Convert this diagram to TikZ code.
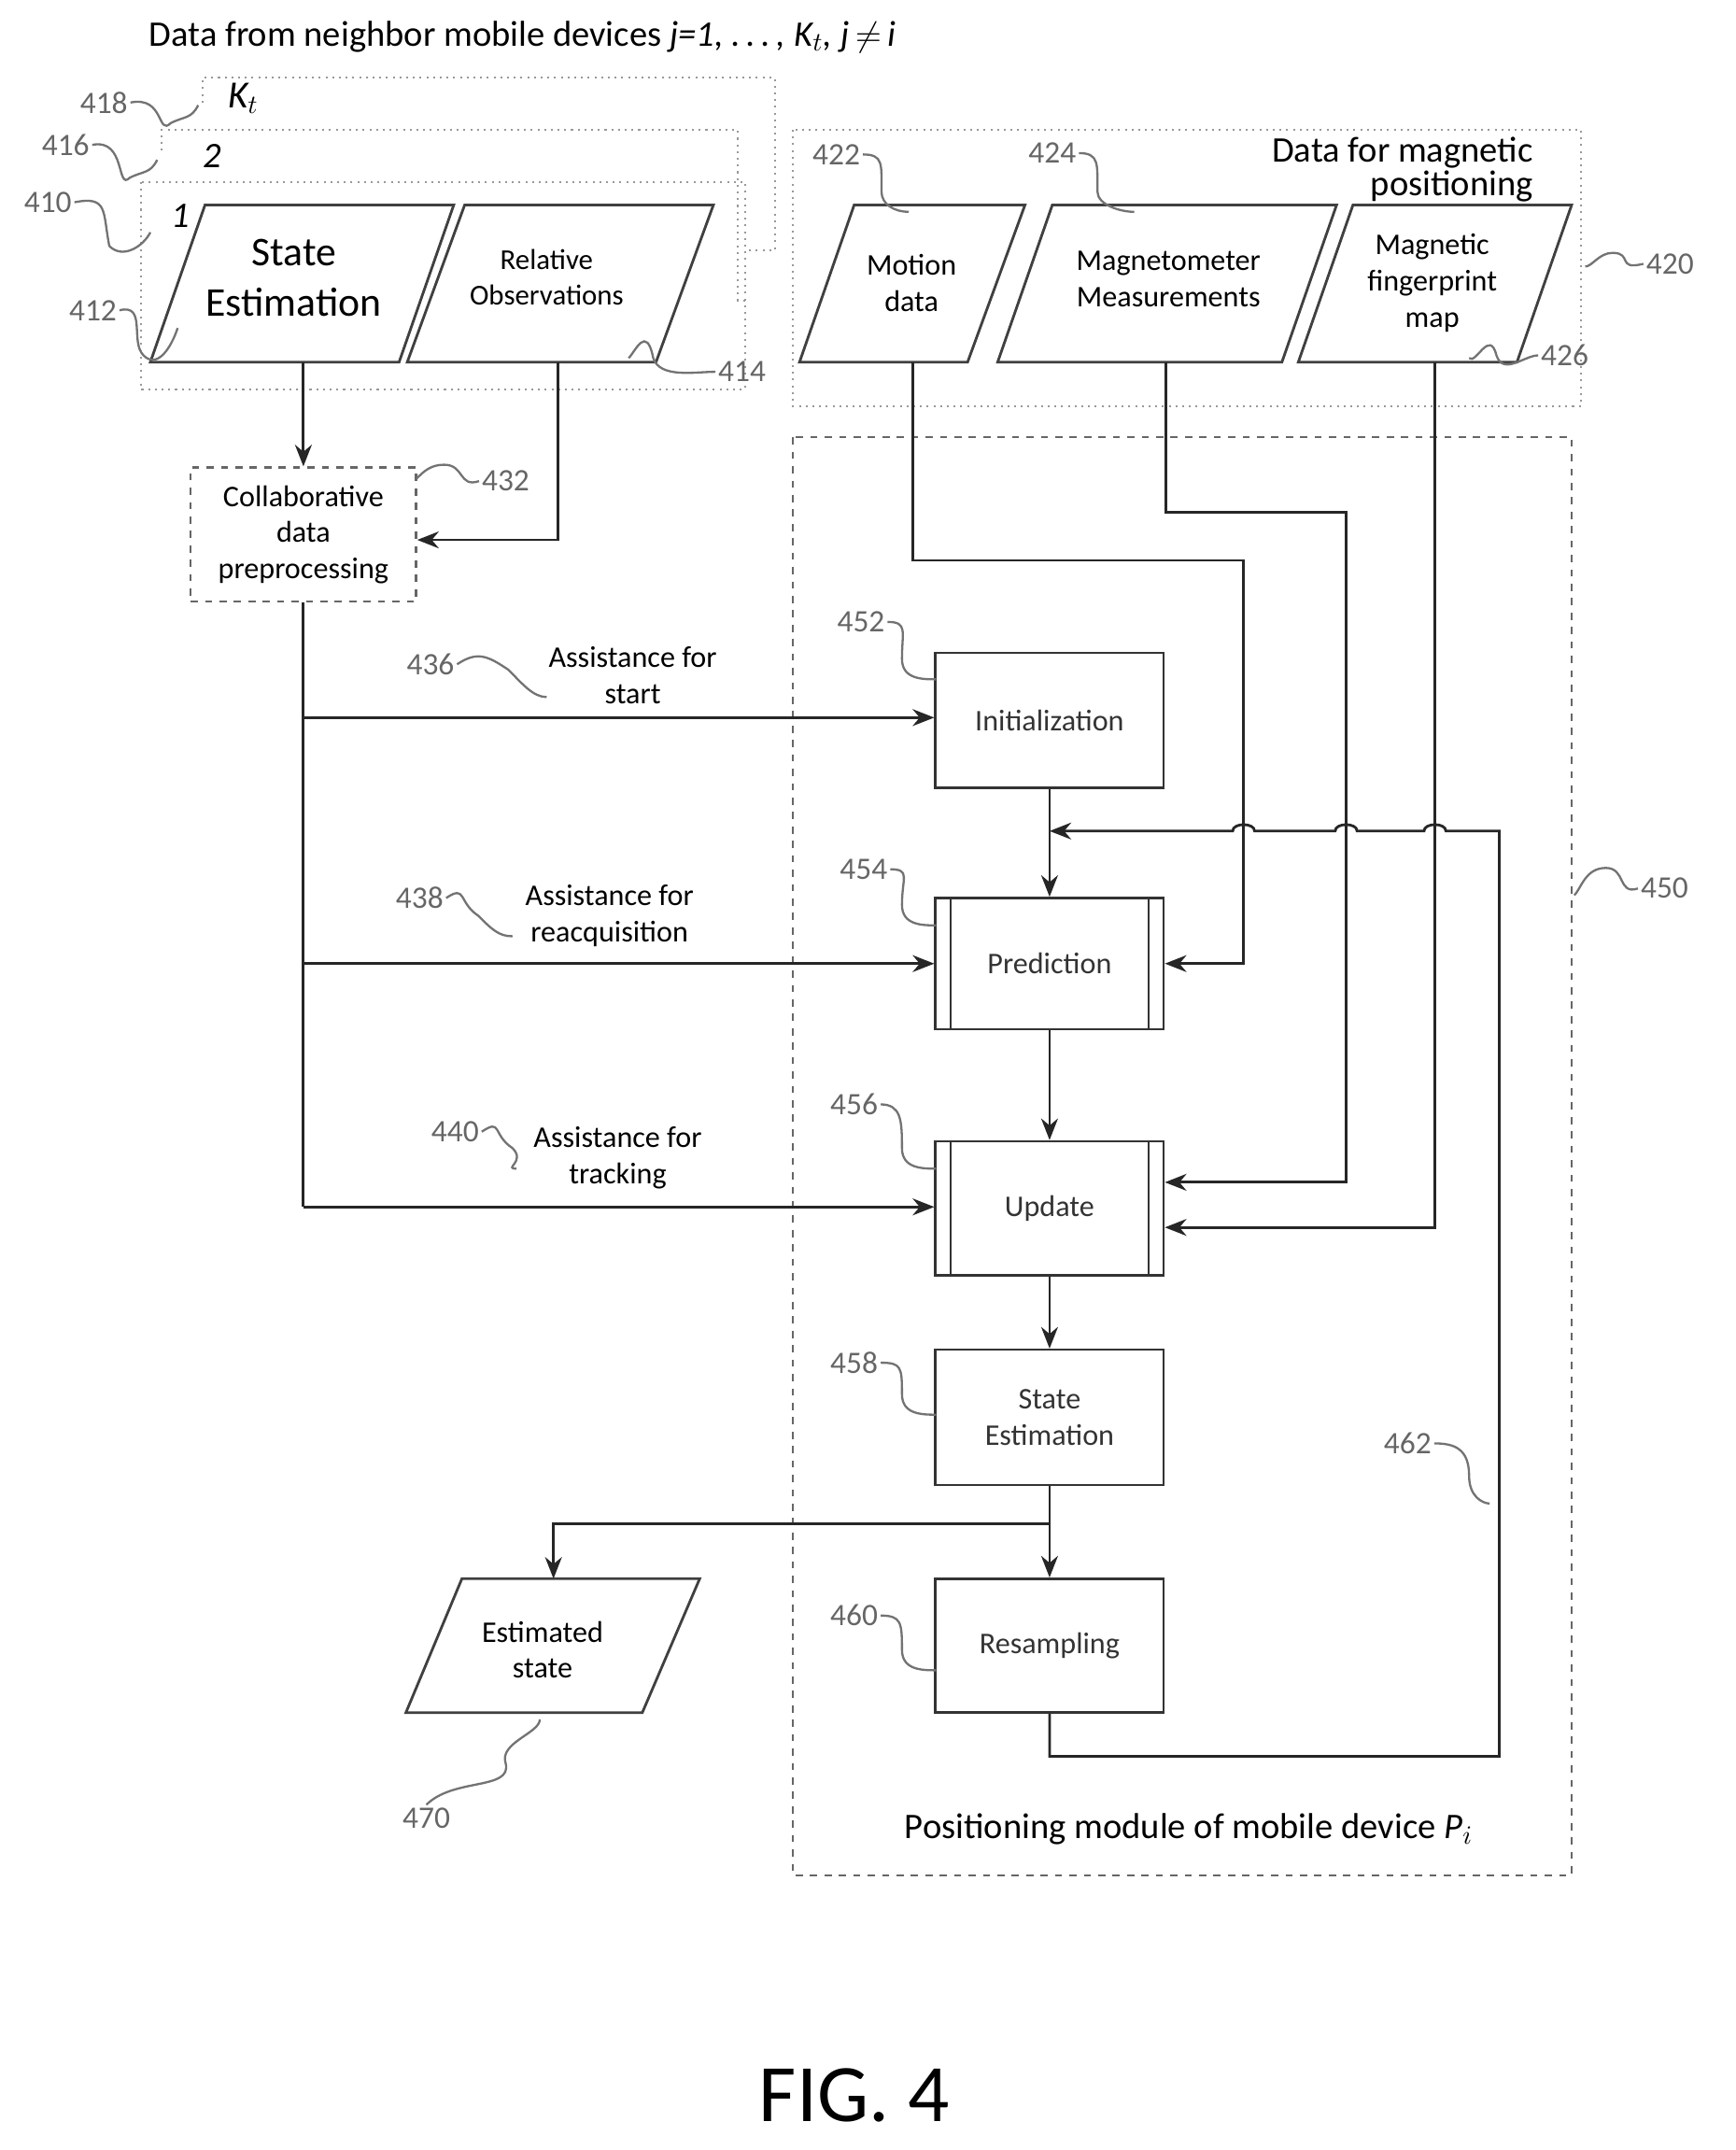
\documentclass[tikz,border=0pt]{standalone}
\usepackage{fontspec}
\setmainfont{Carlito}
\usetikzlibrary{arrows.meta}
\begin{document}
\begin{tikzpicture}[x=0.02cm,y=-0.02cm,
  txt/.style={font=\fontsize{12.5}{15}\selectfont,align=center,inner sep=0pt},
  num/.style={font=\fontsize{13}{15}\selectfont,text=black!60,inner sep=1pt},
  lead/.style={black!55,line width=0.9pt},
  dotfr/.style={black!40,dotted,line width=0.8pt},
  dashfr/.style={black!60,dashed,line width=0.9pt},
  box/.style={draw,line width=1pt,black!80},
  par/.style={draw,line width=1.1pt,black!75},
  ln/.style={line width=1.1pt,black!85},
  arr/.style={ln,-{Stealth[length=9pt,width=7pt]}}]
\useasboundingbox (0,0) rectangle (1270,1573);
% title
\node[font=\fontsize{15}{18}\selectfont,anchor=west] (title) at (103,27) {Data from neighbor mobile devices \textit{j=1, .\,.\,.\,, K$_t$, j}\,$\neq$\,\textit{i}};
% stacked frames
\draw[dotfr] (148,75) -- (148,57) -- (567,57) -- (567,183) -- (545,183);
\draw[dotfr] (118,110) -- (118,95) -- (540,95) -- (540,220) -- (545,220);
\draw[dotfr] (103,133) rectangle (545,285);
\node[font=\fontsize{16}{18}\selectfont\itshape] (lkt) at (178,72) {K$_t$};
\node[font=\fontsize{15}{18}\selectfont\itshape] (l2) at (155,114) {2};
\node[font=\fontsize{15}{18}\selectfont\itshape] (l1) at (132,158) {1};
% parallelograms left
\draw[par] (150,150) coordinate (se1) -- (332,150) -- (292,265) -- (110,265) -- cycle;
\node[txt,font=\fontsize{17}{21}\selectfont] (se) at (215,203) {State\\Estimation};
\coordinate (seb) at (222,265);
\draw[par] (340,150) -- (522,150) -- (480,265) -- (298,265) -- cycle;
\node[txt,font=\fontsize{12}{15}\selectfont] (ro) at (400,203) {Relative\\Observations};
\coordinate (rob) at (408,265);
% magnetic data
\draw[dotfr] (580,95) rectangle (1157,297);
\node[font=\fontsize{15}{12}\selectfont,align=right,anchor=north east] (dmp) at (1128,94) {Data for magnetic\\positioning};
\draw[par] (625,150) -- (750,150) -- (708,265) -- (585,265) -- cycle;
\node[txt] (md) at (667,207) {Motion\\data};
\draw[par] (770,150) -- (978,150) -- (938,265) -- (730,265) -- cycle;
\node[txt] (mm) at (855,204) {Magnetometer\\Measurements};
\draw[par] (990,150) -- (1150,150) -- (1110,265) -- (950,265) -- cycle;
\node[txt] (mf) at (1048,207) {Magnetic\\fingerprint\\map};
% positioning module
\draw[dashfr] (580,320) rectangle (1150,1372);
\node[font=\fontsize{15}{18}\selectfont] (pm) at (870,1338) {Positioning module of mobile device \textit{P$_i$}};
% collaborative
\node[draw,dashfr,minimum width=165*0.02cm,minimum height=98*0.02cm,txt,text=black] (cdp) at (222,391) {Collaborative\\data\\preprocessing};
% boxes
\node[box,minimum width=167*0.02cm,minimum height=99*0.02cm,txt] (init) at (768,527) {Initialization};
\node[box,minimum width=167*0.02cm,minimum height=96*0.02cm,txt] (pred) at (768,705) {Prediction};
\node[box,minimum width=167*0.02cm,minimum height=98*0.02cm,txt] (upd) at (768,884) {Update};
\node[box,minimum width=167*0.02cm,minimum height=99*0.02cm,txt] (sest) at (768,1037) {State\\Estimation};
\node[box,minimum width=167*0.02cm,minimum height=98*0.02cm,txt] (res) at (768,1204) {Resampling};
\foreach \b in {pred,upd}{
  \draw[line width=1pt,black!80] ([xshift=12*0.02cm]\b.north west) -- ([xshift=12*0.02cm]\b.south west);
  \draw[line width=1pt,black!80] ([xshift=-12*0.02cm]\b.north east) -- ([xshift=-12*0.02cm]\b.south east);}
\draw[par] (338,1155) -- (512,1155) -- (470,1253) -- (297,1253) -- cycle;
\node[txt] (est) at (397,1207) {Estimated\\state};
\coordinate (estt) at (405,1155);
% connectors
\draw[arr] (seb) -- (cdp.north);
\draw[arr] (rob) -- (408,395) -- (cdp.east |- 0,395);
\draw[ln] (cdp.south) -- (222,883);
\draw[arr] (222,525) -- (init.west |- 0,525);
\draw[arr] (222,705) -- (pred.west);
\draw[arr] (222,883) -- (upd.west |- 0,883);
\draw[arr] (init.south) -- (pred.north);
\draw[arr] (pred.south) -- (upd.north);
\draw[arr] (upd.south) -- (sest.north);
\draw[arr] (sest.south) -- (res.north);
\draw[arr] (768,1115) -- (405,1115) -- (estt);
\draw[arr] (668,265) -- (668,410) -- (910,410) -- (910,705) -- (pred.east);
\draw[arr] (853,265) -- (853,375) -- (985,375) -- (985,865) -- (upd.east |- 0,865);
\draw[arr] (1050,265) -- (1050,898) -- (upd.east |- 0,898);
\draw[arr] (res.south) -- (768,1285) -- (1097,1285) -- (1097,608)
  -- (1058,608) to[out=90,in=90] (1042,608) -- (993,608) to[out=90,in=90] (977,608)
  -- (918,608) to[out=90,in=90] (902,608) -- (768,608);
% assistance labels
\node[txt] (a436) at (463,494) {Assistance for\\start};
\node[txt] (a438) at (446,670) {Assistance for\\reacquisition};
\node[txt] (a440) at (452,847) {Assistance for\\tracking};
% reference numbers and leaders
\node[num] (n418) at (76,75) {418};
\node[num] (n416) at (48,106) {416};
\node[num] (n410) at (35,148) {410};
\node[num] (n412) at (68,227) {412};
\node[num] (n414) at (543,272) {414};
\node[num] (n422) at (612,113) {422};
\node[num] (n424) at (770,112) {424};
\node[num] (n420) at (1222,193) {420};
\node[num] (n426) at (1145,260) {426};
\node[num] (n432) at (370,352) {432};
\node[num] (n436) at (315,486) {436};
\node[num] (n438) at (307,657) {438};
\node[num] (n440) at (333,828) {440};
\node[num] (n452) at (630,455) {452};
\node[num] (n454) at (632,636) {454};
\node[num] (n456) at (625,808) {456};
\node[num] (n458) at (625,997) {458};
\node[num] (n460) at (625,1182) {460};
\node[num] (n462) at (1030,1056) {462};
\node[num] (n450) at (1218,650) {450};
\node[num] (n470) at (312,1330) {470};
\draw[lead] (n418.east) .. controls +(25,-5) and +(-10,10) .. (125,90) .. controls +(10,-5) and +(-5,10) .. (145,77);
\draw[lead] (n416.east) .. controls +(25,-5) and +(-10,10) .. (95,130) .. controls +(10,-5) and +(-5,10) .. (115,117);
\draw[lead] (n410.east) .. controls +(25,-5) and +(-5,-25) .. (80,180) .. controls +(10,10) and +(-5,10) .. (110,170);
\draw[lead] (n412.east) .. controls +(20,-5) and +(-10,-10) .. (105,260) .. controls +(10,10) and +(-5,15) .. (130,240);
\draw[lead] (n414.west) .. controls +(-15,0) and +(5,15) .. (478,262) .. controls +(-5,-25) and +(5,-5) .. (460,262);
\draw[lead] (n422.east) .. controls +(15,0) and +(0,-20) .. (645,140) .. controls +(0,10) and +(-10,0) .. (665,155);
\draw[lead] (n424.east) .. controls +(15,0) and +(0,-20) .. (803,140) .. controls +(0,10) and +(-10,0) .. (830,155);
\draw[lead] (n420.west) .. controls +(-20,5) and +(15,0) .. (1180,185) .. controls +(-10,0) and +(5,0) .. (1160,195);
\draw[lead] (n426.west) .. controls +(-10,0) and +(5,15) .. (1095,260) .. controls +(-5,-20) and +(5,5) .. (1075,262);
\draw[lead] (n432.west) .. controls +(-15,5) and +(15,0) .. (325,340) .. controls +(-10,0) and +(5,-5) .. (305,350);
\draw[lead] (n436.east) .. controls +(15,-10) and +(-15,-10) .. (372,490) .. controls +(10,10) and +(-10,0) .. (400,510);
\draw[lead] (n438.east) .. controls +(15,-10) and +(-15,-10) .. (350,670) .. controls +(10,10) and +(-10,0) .. (375,685);
\draw[lead] (n440.east) .. controls +(15,-10) and +(-15,-10) .. (375,840) .. controls +(10,10) and +(-10,0) .. (378,855);
\foreach \n/\y in {n452/497,n454/677,n456/855,n458/1035,n460/1222}{
  \draw[lead] (\n.east) .. controls +(15,0) and +(0,-20) .. (660,\y-15) .. controls +(0,15) and +(-10,0) .. (685,\y);}
\draw[lead] (n462.east) .. controls +(15,0) and +(0,-20) .. (1075,1080) .. controls +(0,15) and +(-5,0) .. (1090,1100);
\draw[lead] (n450.west) .. controls +(-15,5) and +(15,0) .. (1175,635) .. controls +(-15,0) and +(5,-5) .. (1152,655);
\draw[lead] (n470.north) .. controls +(20,-20) and +(5,20) .. (370,1290) .. controls +(-5,-15) and +(0,10) .. (395,1258);
% fig
\node[font=\fontsize{34}{40}\selectfont] (fig) at (625,1533) {FIG. 4};
\end{tikzpicture}
\end{document}
